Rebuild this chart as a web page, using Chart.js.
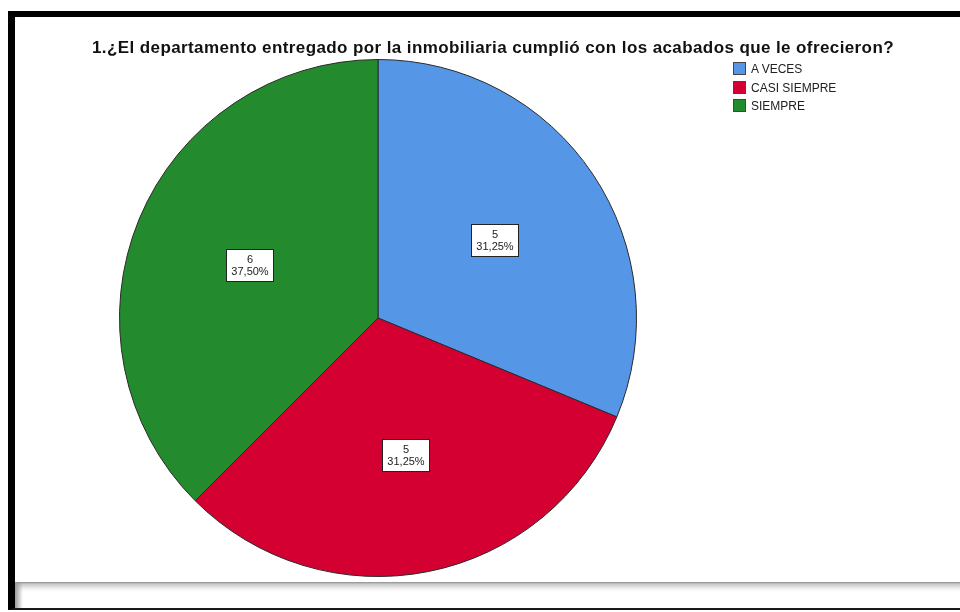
<!DOCTYPE html>
<html lang="es">
<head>
    <meta charset="UTF-8">
    <title>Acabados del departamento</title>
    <script src="https://cdn.jsdelivr.net/npm/chart.js"></script>
    <style>
        html, body {
            margin: 0;
            padding: 0;
            width: 960px;
            height: 612px;
            overflow: hidden;
            background: #fff;
            font-family: Arial, 'Liberation Sans', sans-serif;
        }
        .frame {
            position: absolute;
            left: 8px;
            top: 11px;
            width: 960px;
            height: 591px;
            border-left: 7px solid #000;
            border-top: 6px solid #000;
            border-bottom: 2px solid #1a1a1a;
            background: #fff;
        }
        .band {
            position: absolute;
            left: 15px;
            top: 582px;
            width: 945px;
            height: 26px;
            background: linear-gradient(to bottom, #8c8c8c 0px, #c8c8c8 2px, #f4f4f4 7px, #fff 10px);
        }
        .band::before {
            content: '';
            position: absolute;
            left: 0;
            top: 0;
            width: 8px;
            height: 26px;
            background: linear-gradient(to right, #9a9a9a, rgba(255,255,255,0));
        }
        #chartWrap {
            position: absolute;
            left: 0;
            top: 0;
            width: 960px;
            height: 612px;
        }
        .title {
            position: absolute;
            left: 53px;
            top: 38px;
            width: 880px;
            text-align: center;
            font-size: 17px;
            letter-spacing: 0.4px;
            font-weight: bold;
            color: #111;
            white-space: nowrap;
        }
        .legend {
            position: absolute;
            left: 733px;
            top: 62px;
            margin: 0;
            padding: 0;
            list-style: none;
            font-size: 12px;
            color: #222;
        }
        .legend li {
            height: 18.5px;
            display: flex;
            align-items: flex-start;
        }
        .legend .box {
            width: 13px;
            height: 13px;
            border: 1px solid #444;
            box-sizing: border-box;
            margin-right: 5px;
        }
        .legend span.txt {
            line-height: 14px;
        }
    </style>
</head>
<body>
    <div class="frame"></div>
    <div class="band"></div>
    <div id="chartWrap"><canvas id="pieChart" width="960" height="612"></canvas></div>
    <div class="title" id="chartTitle">1.¿El departamento entregado por la inmobiliaria cumplió con los acabados que le ofrecieron?</div>
    <ul class="legend" id="legend"></ul>

    <script>
        const categories = ['A VECES', 'CASI SIEMPRE', 'SIEMPRE'];
        const counts = [5, 5, 6];
        const sliceColors = ['#5596e6', '#d50032', '#238b2e'];

        // porcentaje con coma decimal, como "31,25%"
        function pct(v, total) {
            return (v / total * 100).toFixed(2).replace('.', ',') + '%';
        }

        // etiquetas en recuadro blanco dentro de cada sector
        const sliceLabels = {
            id: 'sliceLabels',
            afterDatasetsDraw(chart) {
                const ctx = chart.ctx;
                const meta = chart.getDatasetMeta(0);
                const data = chart.data.datasets[0].data;
                const total = data.reduce((a, b) => a + b, 0);
                ctx.save();
                ctx.font = '11px Arial, "Liberation Sans", sans-serif';
                ctx.textAlign = 'center';
                ctx.textBaseline = 'middle';
                meta.data.forEach((arc, i) => {
                    const p = arc.getProps(['x', 'y', 'startAngle', 'endAngle', 'outerRadius'], true);
                    const mid = (p.startAngle + p.endAngle) / 2;
                    const r = p.outerRadius * 0.54;
                    const cx = p.x + Math.cos(mid) * r;
                    const cy = p.y + Math.sin(mid) * r;
                    const w = 47, h = 32;
                    const bx = Math.round(cx - w / 2) + 0.5;
                    const by = Math.round(cy - h / 2) + 0.5;
                    ctx.fillStyle = '#fff';
                    ctx.fillRect(bx, by, w, h);
                    ctx.strokeStyle = '#222';
                    ctx.lineWidth = 1;
                    ctx.strokeRect(bx, by, w, h);
                    ctx.fillStyle = '#222';
                    ctx.fillText(String(data[i]), bx + w / 2, by + 10);
                    ctx.fillText(pct(data[i], total), bx + w / 2, by + 22);
                });
                ctx.restore();
            }
        };

        const ctx = document.getElementById('pieChart').getContext('2d');
        new Chart(ctx, {
            type: 'pie',
            data: {
                labels: categories,
                datasets: [{
                    data: counts,
                    backgroundColor: sliceColors,
                    borderColor: '#2a2a2a',
                    borderWidth: 1
                }]
            },
            options: {
                responsive: false,
                animation: false,
                layout: {
                    padding: { left: 119, top: 59, right: 323, bottom: 35 }
                },
                plugins: {
                    legend: { display: false },
                    tooltip: { enabled: false }
                }
            },
            plugins: [sliceLabels]
        });

        // leyenda
        const legend = document.getElementById('legend');
        categories.forEach((c, i) => {
            const li = document.createElement('li');
            li.innerHTML = `<span class="box" style="background:${sliceColors[i]}"></span><span class="txt">${c}</span>`;
            legend.appendChild(li);
        });
    </script>
</body>
</html>
